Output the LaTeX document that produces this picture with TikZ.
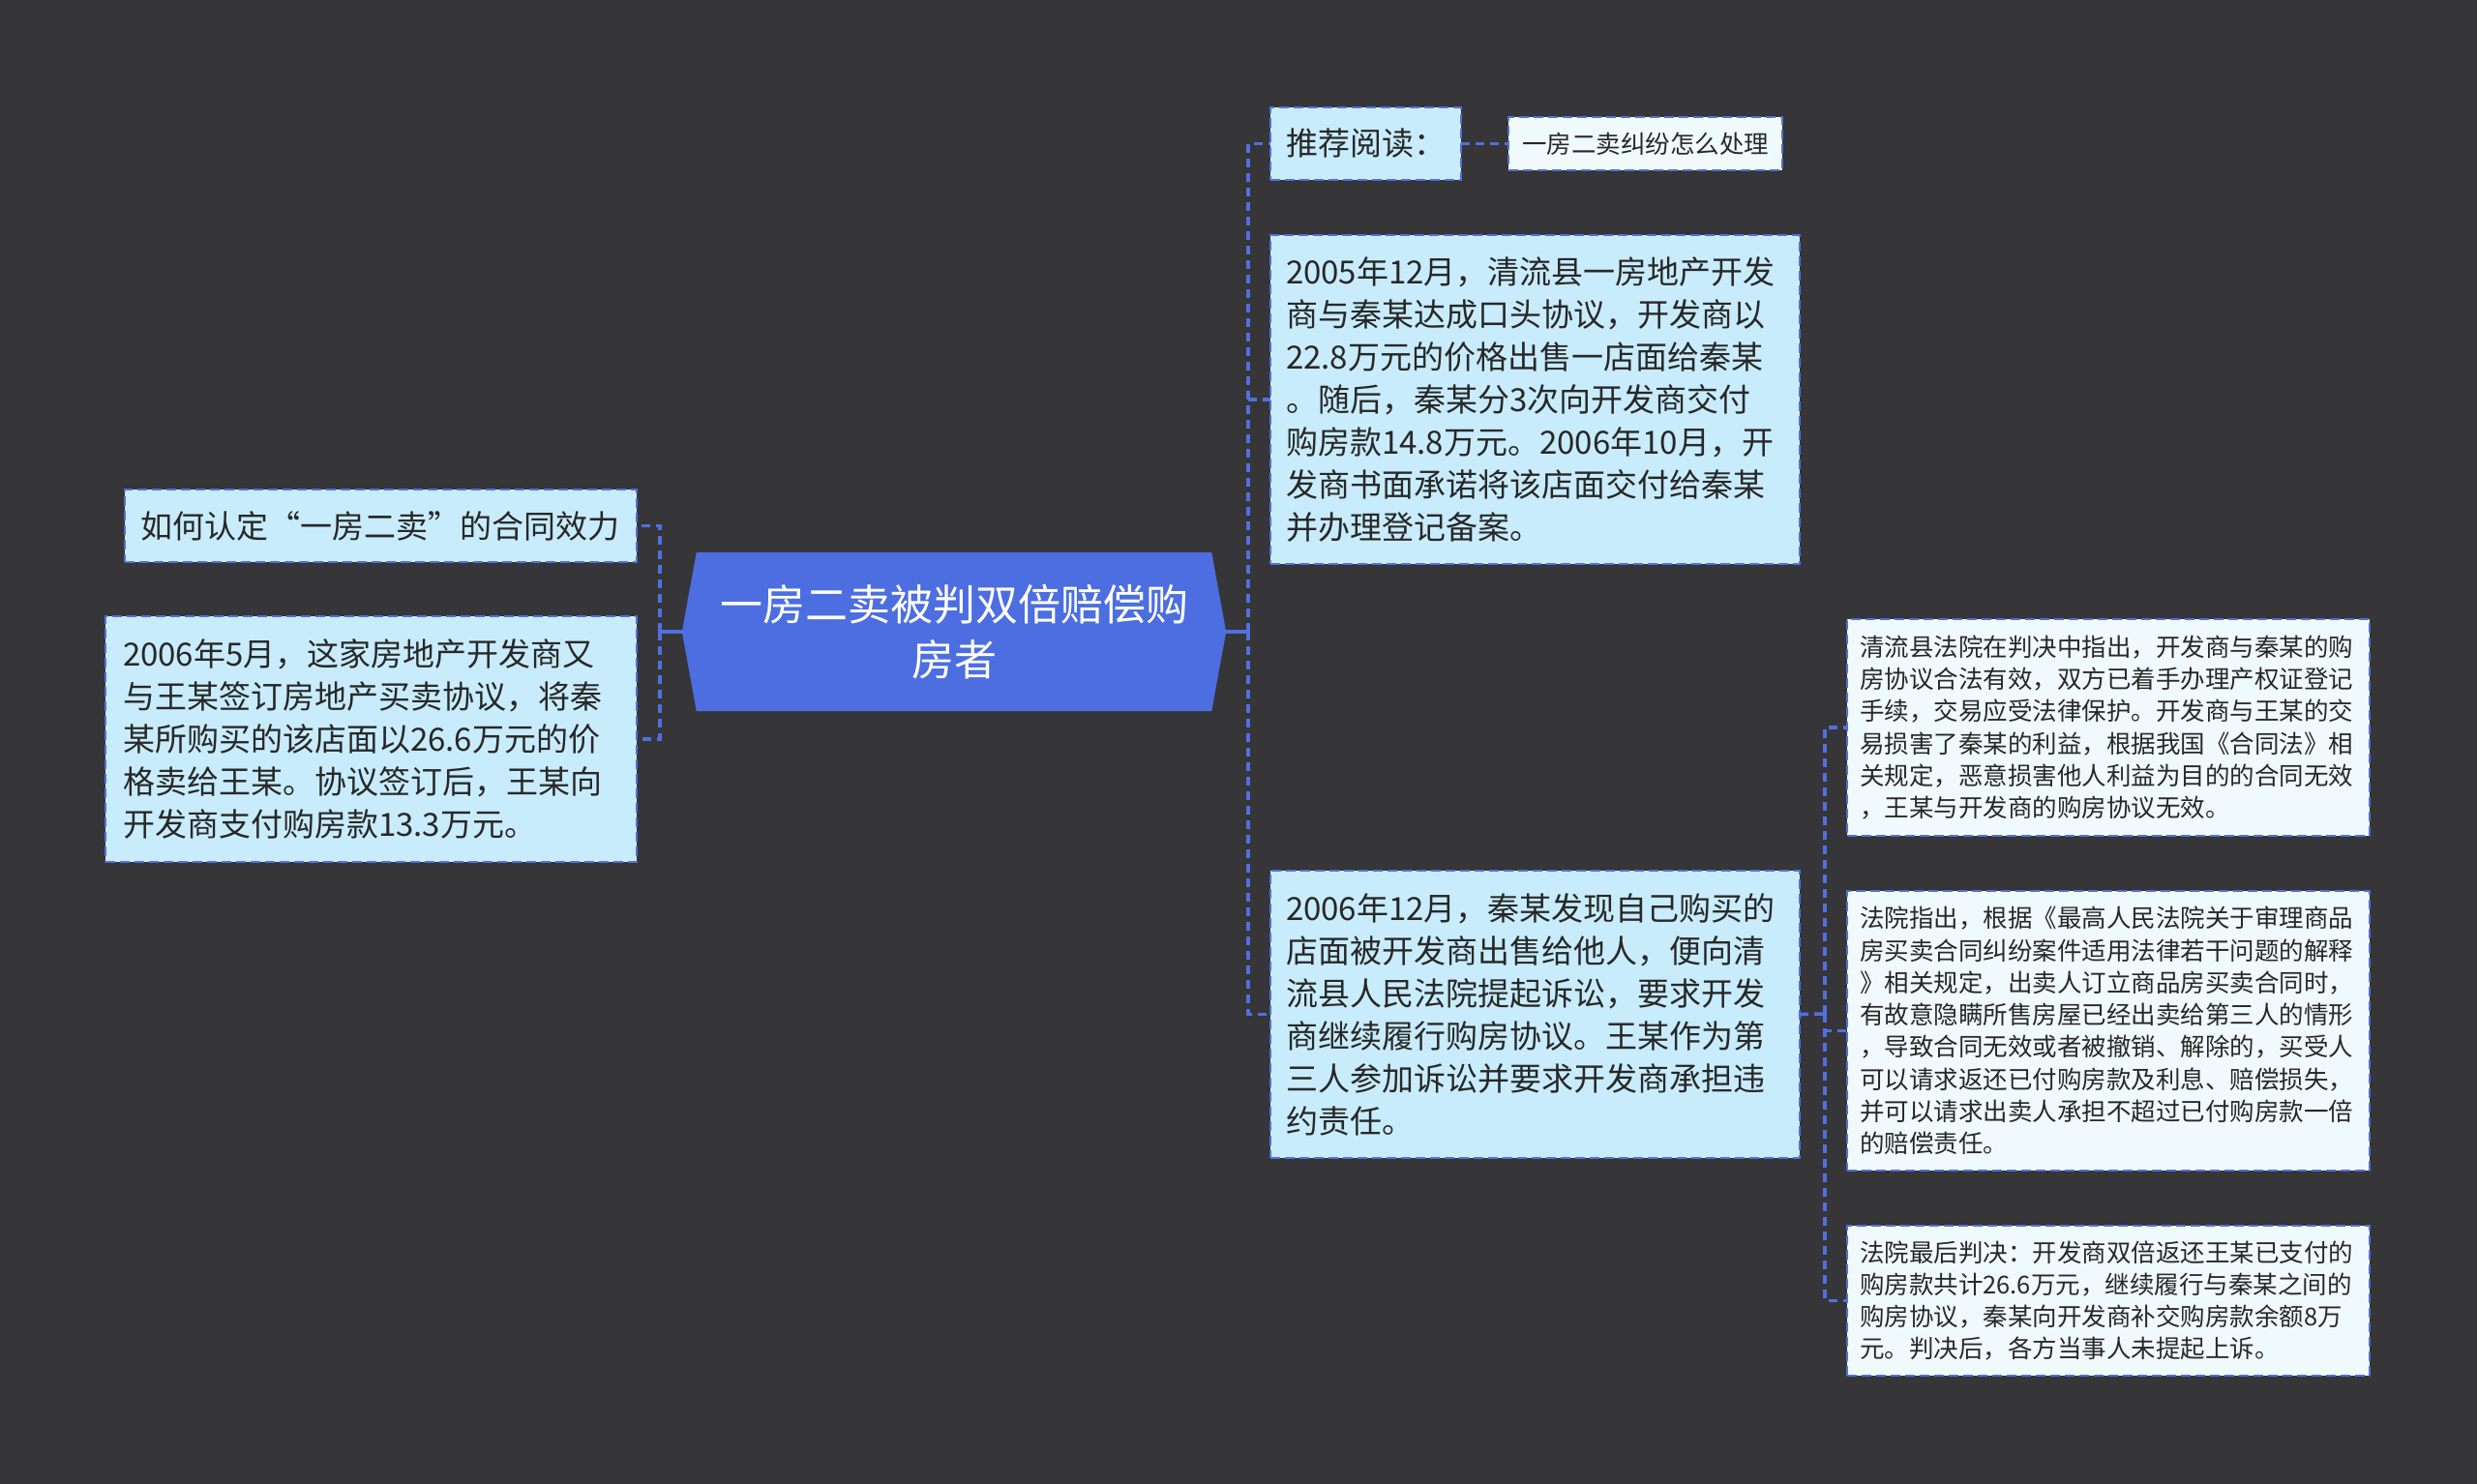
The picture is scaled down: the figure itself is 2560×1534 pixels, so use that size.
\documentclass[tikz,border=0pt]{standalone}
\usepackage{fontspec}
\setmainfont{Noto Sans CJK SC}
\usetikzlibrary{calc}
\definecolor{bg}{RGB}{54,53,56}
\definecolor{lnk}{RGB}{80,112,222}
\definecolor{hexfill}{RGB}{76,110,224}
\definecolor{boxfill}{RGB}{200,236,252}
\definecolor{palefill}{RGB}{240,250,253}
\definecolor{txt}{RGB}{40,40,40}
\tikzset{
  box/.style={draw=lnk, line width=2.6pt, dash pattern=on 10pt off 5pt, fill=boxfill,
    text=txt, anchor=north west, align=left, inner ysep=0pt, outer sep=0pt},
  bigtxt/.style={font=\fontsize{33}{44}\selectfont},
  smalltxt/.style={font=\fontsize{25.5}{33.3}\selectfont},
  pale/.style={fill=palefill},
  conn/.style={draw=lnk, line width=3.6pt, dash pattern=on 9pt off 6pt},
  trunk/.style={draw=lnk, line width=3.8pt},
}
\begin{document}
\begin{tikzpicture}[x=1pt,y=-1pt]
\useasboundingbox (0,0) rectangle (2560,1534);
\fill[bg] (0,0) rectangle (2560,1534);

% center
\node[minimum width=562pt, minimum height=164pt, inner sep=0pt, text=white, align=center,
  font=\fontsize{44}{57}\selectfont] (c) at (986,653) {};
\fill[hexfill] (c.west) -- ([xshift=15pt]c.north west) -- ([xshift=-15pt]c.north east) -- (c.east)
  -- ([xshift=-15pt]c.south east) -- ([xshift=15pt]c.south west) -- cycle;
\node[text=white, align=center, font=\fontsize{44}{57}\selectfont] at (c.center) {一房二卖被判双倍赔偿购\\房者};

% connectors
\coordinate (lb) at (682,653);
\coordinate (rb) at (1290,653);
\coordinate (sb) at (1886,1048);

% left
\node[box, bigtxt, text width=497pt, inner xsep=16pt, minimum height=75pt] (L1) at (129,506) {如何认定“一房二卖”的合同效力};
\node[box, bigtxt, text width=513pt, inner xsep=18pt, minimum height=254pt] (L2) at (109,637)
{2006年5月，这家房地产开发商又\\与王某签订房地产买卖协议，将秦\\某所购买的该店面以26.6万元的价\\格卖给王某。协议签订后，王某向\\开发商支付购房款13.3万元。};

% right
\node[box, bigtxt, text width=165pt, inner xsep=16pt, minimum height=75pt] (R0) at (1313,111) {推荐阅读：};
\node[box, pale, smalltxt, text width=255pt, inner xsep=14pt, minimum height=55pt] (R0b) at (1559,121) {一房二卖纠纷怎么处理};
\node[box, bigtxt, text width=515pt, inner xsep=16pt, minimum height=340pt] (R1) at (1313,243)
{2005年12月，清流县一房地产开发\\商与秦某达成口头协议，开发商以\\22.8万元的价格出售一店面给秦某\\。随后，秦某分3次向开发商交付\\购房款14.8万元。2006年10月，开\\发商书面承诺将该店面交付给秦某\\并办理登记备案。};
\node[box, bigtxt, text width=515pt, inner xsep=16pt, minimum height=297pt] (R2) at (1313,900)
{2006年12月，秦某发现自己购买的\\店面被开发商出售给他人，便向清\\流县人民法院提起诉讼，要求开发\\商继续履行购房协议。王某作为第\\三人参加诉讼并要求开发商承担违\\约责任。};

% far right
\node[box, pale, smalltxt, text width=514pt, inner xsep=13pt, minimum height=224pt] (S1) at (1909,640)
{清流县法院在判决中指出，开发商与秦某的购\\房协议合法有效，双方已着手办理产权证登记\\手续，交易应受法律保护。开发商与王某的交\\易损害了秦某的利益，根据我国《合同法》相\\关规定，恶意损害他人利益为目的的合同无效\\，王某与开发商的购房协议无效。};
\node[box, pale, smalltxt, text width=514pt, inner xsep=13pt, minimum height=289pt] (S2) at (1909,921)
{法院指出，根据《最高人民法院关于审理商品\\房买卖合同纠纷案件适用法律若干问题的解释\\》相关规定，出卖人订立商品房买卖合同时，\\有故意隐瞒所售房屋已经出卖给第三人的情形\\，导致合同无效或者被撤销、解除的，买受人\\可以请求返还已付购房款及利息、赔偿损失，\\并可以请求出卖人承担不超过已付购房款一倍\\的赔偿责任。};
\node[box, pale, smalltxt, text width=514pt, inner xsep=13pt, minimum height=155pt] (S3) at (1909,1267)
{法院最后判决：开发商双倍返还王某已支付的\\购房款共计26.6万元，继续履行与秦某之间的\\购房协议，秦某向开发商补交购房款余额8万\\元。判决后，各方当事人未提起上诉。};

\draw[trunk] (c.west) -- (lb);
\draw[trunk] (c.east) -- (rb);
\draw[conn] (lb) |- (L1.east);
\draw[conn] (lb) |- (L2.east);
\draw[conn] (rb) |- (R0.west);
\draw[conn] (rb) |- (R1.west);
\draw[conn] (rb) |- (R2.west);
\draw[conn] (R0.east) -- (R0b.west);
\draw[conn] (R2.east) -- (sb);
\draw[conn] (sb) |- (S1.west);
\draw[conn] (sb) |- (S2.west);
\draw[conn] (sb) |- (S3.west);
\end{tikzpicture}
\end{document}
